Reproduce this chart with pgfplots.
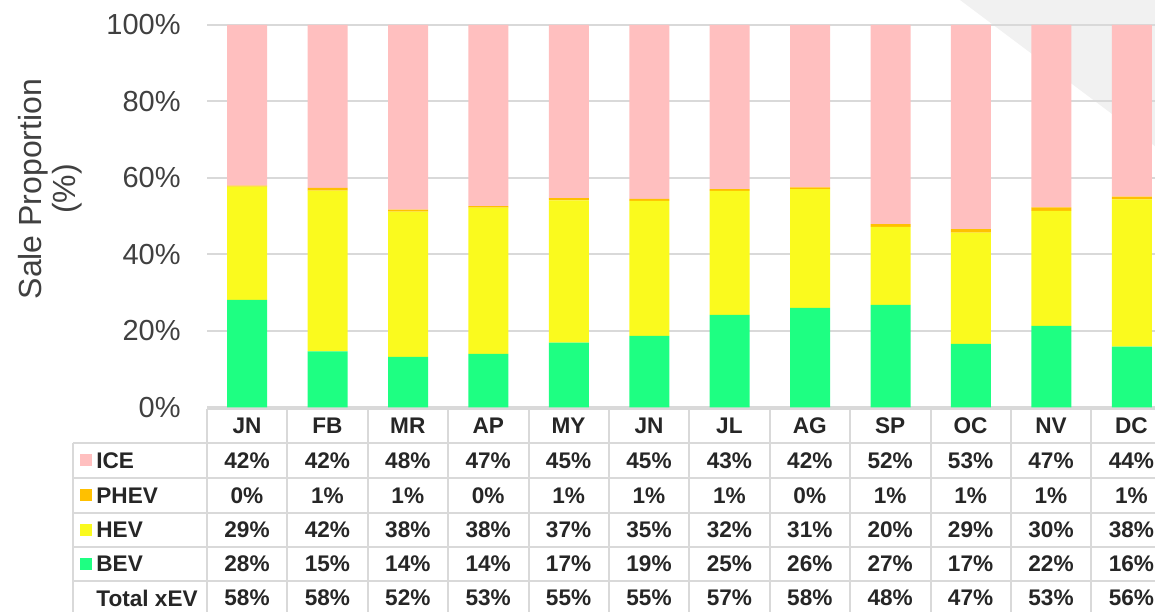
\documentclass[border=0pt]{standalone}
\usepackage{fontspec}
\setmainfont{Liberation Sans}
\usepackage{pgfplots}
\pgfplotsset{compat=1.18}
\usepackage{pgfplotstable}

\definecolor{iceC}{RGB}{255,191,191}
\definecolor{phevC}{RGB}{255,192,0}
\definecolor{hevC}{RGB}{250,250,30}
\definecolor{bevC}{RGB}{30,255,130}
\definecolor{gridC}{RGB}{217,217,217}
\definecolor{txtC}{RGB}{38,38,38}
\definecolor{tickC}{RGB}{64,64,64}
\definecolor{wmC}{RGB}{241,241,241}

% bar segments (percent)
\pgfplotstableread{
x  bev  hev  phev ice
0  28.1 29.6 0.3  42.0
1  14.6 42.1 0.7  42.6
2  13.2 38.0 0.5  48.3
3  14.0 38.2 0.4  47.4
4  16.9 37.2 0.6  45.3
5  18.7 35.3 0.5  45.5
6  24.2 32.4 0.5  42.9
7  26.0 31.1 0.4  42.5
8  26.8 20.4 0.7  52.1
9  16.6 29.1 0.9  53.4
10 21.3 30.1 0.9  47.7
11 15.9 38.5 0.7  44.9
}\bars

\newcommand\cellfont{\bfseries\fontsize{11.3}{13}\selectfont}
% one row of the data table: y centre, values
\newcommand\tablerow[2]{%
  \foreach \v [count=\k from 0] in {#2}
    \node[font=\cellfont, text=txtC] at ({247+80.4*\k},#1) {\v\%};}

\begin{document}
\begin{tikzpicture}
\useasboundingbox (-103.5pt,-101.85pt) rectangle (474pt,203.65pt);
\clip (-103.5pt,-101.85pt) rectangle (474pt,203.65pt);

% background decoration
\begin{scope}[x=0.5pt,y=-0.5pt,shift={(-103.5pt,203.65pt)}]
  \fill[wmC] (960,0) -- (1160,0) -- (1160,150) -- cycle;
\end{scope}

\begin{axis}[
    at={(0,0)}, anchor=south west,
    scale only axis, width=482.5pt, height=191.15pt,
    xmin=-0.5, xmax=11.5, ymin=0, ymax=100,
    ybar stacked, bar width=20pt,
    axis line style={draw=none},
    xtick=\empty,
    ytick={0,20,...,100},
    yticklabel={\pgfmathprintnumber{\tick}\%},
    major tick length=0pt,
    ymajorgrids, grid style={gridC, line width=1pt},
    yticklabel style={font=\fontsize{14.5}{16}\selectfont, text=tickC, inner sep=0pt, xshift=-13pt},
    /pgf/number format/assume math mode=true,
    clip=false,
  ]
  \addplot[fill=bevC, draw=none] table[x=x, y=bev] {\bars};
  \addplot[fill=hevC, draw=none] table[x=x, y=hev] {\bars};
  \addplot[fill=phevC, draw=none] table[x=x, y=phev] {\bars};
  \addplot[fill=iceC, draw=none] table[x=x, y=ice] {\bars};
\end{axis}

\begin{scope}[x=0.5pt,y=-0.5pt,shift={(-103.5pt,203.65pt)}]
  % y label
  \node[rotate=90, align=center, font=\fontsize{16}{17}\selectfont, text=tickC] at (50,189) {Sale Proportion\\(\%)};
  % table grid
  \begin{scope}[gridC, line width=1pt]
    \foreach \k in {0,...,12} \draw ({207+80.4*\k},409) -- ({207+80.4*\k},616);
    \draw (73,443) -- (73,616);
    \draw (207,409) -- (1172,409);
    \foreach \yy in {443,478,513,547,581,615} \draw (73,\yy) -- (1172,\yy);
  \end{scope}
  % header
  \foreach \m [count=\k from 0] in {JN,FB,MR,AP,MY,JN,JL,AG,SP,OC,NV,DC}
    \node[font=\cellfont, text=txtC] at ({247+80.4*\k},426) {\m};
  % row labels with legend keys
  \fill[iceC]  (80,454) rectangle (92,466);
  \fill[phevC] (80,489) rectangle (92,501);
  \fill[hevC]  (80,524) rectangle (92,536);
  \fill[bevC]  (80,558) rectangle (92,570);
  \begin{scope}[every node/.style={anchor=west, font=\cellfont, text=txtC, inner xsep=0pt}]
    \node at (96,460.5) {ICE};
    \node at (96,495.5) {PHEV};
    \node at (96,530) {HEV};
    \node at (96,564) {BEV};
    \node at (96,598) {Total xEV};
  \end{scope}
  % values
  \tablerow{460.5}{42,42,48,47,45,45,43,42,52,53,47,44}
  \tablerow{495.5}{0,1,1,0,1,1,1,0,1,1,1,1}
  \tablerow{530}{29,42,38,38,37,35,32,31,20,29,30,38}
  \tablerow{564}{28,15,14,14,17,19,25,26,27,17,22,16}
  \tablerow{598}{58,58,52,53,55,55,57,58,48,47,53,56}
\end{scope}
\end{tikzpicture}
\end{document}
